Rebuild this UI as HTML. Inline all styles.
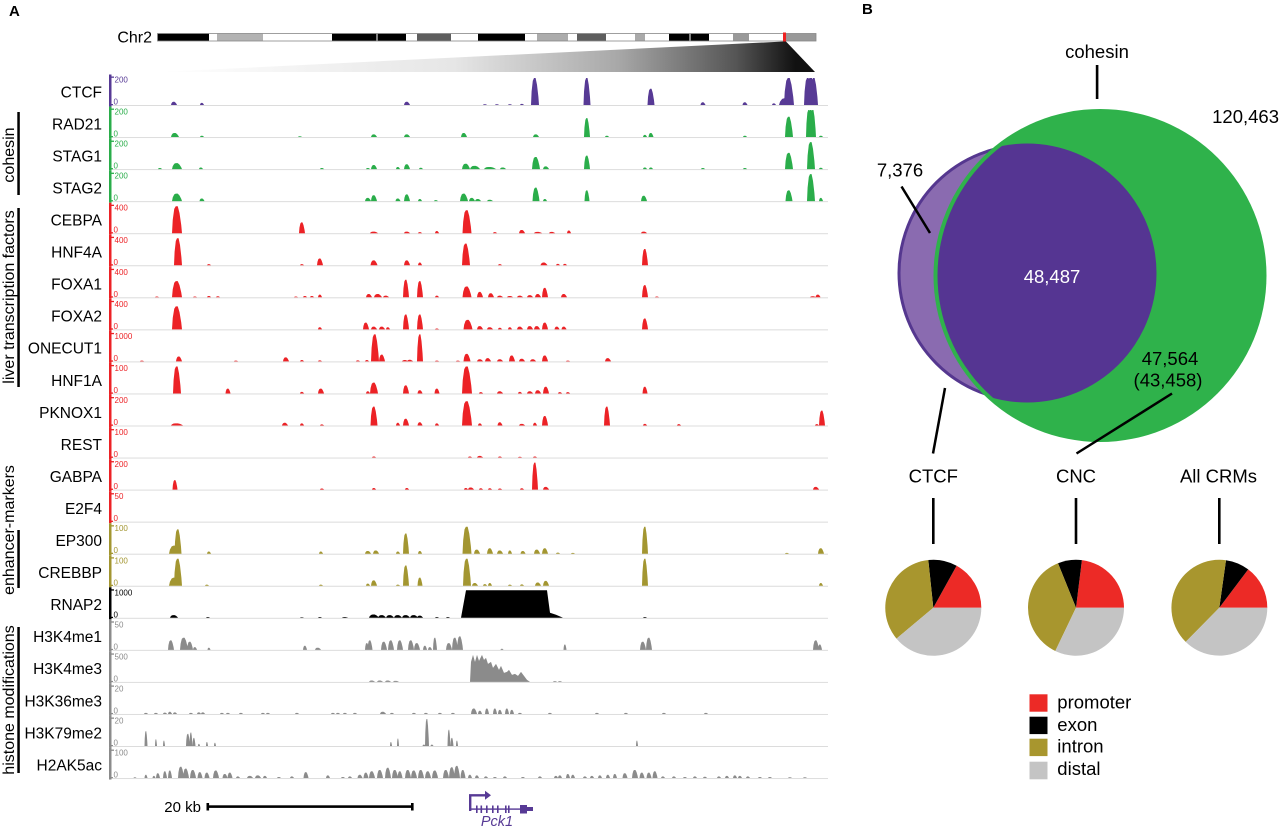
<!DOCTYPE html>
<html><head><meta charset="utf-8"><style>
html,body{margin:0;padding:0;background:#fff;}
svg{display:block;}
text{font-family:"Liberation Sans",Arial,sans-serif;}
</style></head><body>
<svg id="s" width="1280" height="828" viewBox="0 0 1280 828" xmlns="http://www.w3.org/2000/svg">
<defs>
<linearGradient id="wg" gradientUnits="userSpaceOnUse" x1="159" y1="0" x2="815" y2="0">
<stop offset="0" stop-color="#ffffff"/><stop offset="0.45" stop-color="#e6e6e6"/><stop offset="0.7" stop-color="#a8a8a8"/><stop offset="0.88" stop-color="#555"/><stop offset="0.97" stop-color="#111"/>
</linearGradient>
<clipPath id="gc"><circle cx="1100" cy="275.5" r="162.5"/></clipPath>
</defs>

<!-- Panel labels -->
<text x="9" y="16" font-size="15" font-weight="bold">A</text>
<text x="862" y="14" font-size="15" font-weight="bold">B</text>

<!-- Ideogram -->
<text x="152" y="42.5" font-size="16" text-anchor="end">Chr2</text>
<g>
<rect x="157.5" y="33.5" width="51.5" height="7.5" fill="#000"/>
<rect x="217" y="33.5" width="46" height="7.5" fill="#b3b3b3"/>
<rect x="332" y="33.5" width="44.5" height="7.5" fill="#000"/>
<rect x="377.5" y="33.5" width="28.5" height="7.5" fill="#000"/>
<rect x="417" y="33.5" width="34" height="7.5" fill="#5e5e5e"/>
<rect x="478" y="33.5" width="47" height="7.5" fill="#000"/>
<rect x="537" y="33.5" width="31" height="7.5" fill="#acacac"/>
<rect x="577" y="33.5" width="29" height="7.5" fill="#5e5e5e"/>
<rect x="635" y="33.5" width="10" height="7.5" fill="#aaa"/>
<rect x="669" y="33.5" width="20.5" height="7.5" fill="#000"/>
<rect x="690.5" y="33.5" width="18.5" height="7.5" fill="#000"/>
<rect x="733" y="33.5" width="16" height="7.5" fill="#999"/>
<rect x="786" y="33.5" width="30" height="7.5" fill="#999"/>
<rect x="157.5" y="33.5" width="658.5" height="7.5" fill="none" stroke="#888" stroke-width="0.8"/>
<rect x="783" y="32.5" width="3" height="9.5" fill="#ee2222"/>
</g>
<polygon points="159,72 784,41.5 786,41.5 815,72" fill="url(#wg)"/>

<!-- Group labels -->
<g font-size="16">
<text transform="translate(14,155) rotate(-90)" text-anchor="middle">cohesin</text>
<text transform="translate(14,297) rotate(-90)" text-anchor="middle">liver transcription factors</text>
<text transform="translate(14,530) rotate(-90)" text-anchor="middle">enhancer-markers</text>
<text transform="translate(14,700) rotate(-90)" text-anchor="middle">histone modifications</text>
</g>
<g fill="#000">
<rect x="17.3" y="112" width="2.5" height="83"/>
<rect x="17.3" y="208" width="2.5" height="179"/>
<rect x="17.3" y="530" width="2.5" height="58"/>
<rect x="17.3" y="627" width="2.5" height="146"/>
</g>

<!-- Track labels -->
<g font-size="15.5" text-anchor="end">
<text x="102" y="97.3">CTCF</text>
<text x="102" y="129.4">RAD21</text>
<text x="102" y="161.4">STAG1</text>
<text x="102" y="193.5">STAG2</text>
<text x="102" y="225.5">CEBPA</text>
<text x="102" y="257.6">HNF4A</text>
<text x="102" y="289.6">FOXA1</text>
<text x="102" y="321.7">FOXA2</text>
<text x="102" y="353.7">ONECUT1</text>
<text x="102" y="385.8">HNF1A</text>
<text x="102" y="417.8">PKNOX1</text>
<text x="102" y="449.9">REST</text>
<text x="102" y="481.9">GABPA</text>
<text x="102" y="514">E2F4</text>
<text x="102" y="546">EP300</text>
<text x="102" y="578.1">CREBBP</text>
<text x="102" y="610.1">RNAP2</text>
<text x="102" y="642.2">H3K4me1</text>
<text x="102" y="674.2">H3K4me3</text>
<text x="102" y="706.3">H3K36me3</text>
<text x="102" y="738.3">H3K79me2</text>
<text x="102" y="770.4">H2AK5ac</text>
</g>

<!-- axes and peaks generated -->
<g id="ax"></g>
<g id="tr"></g>

<!-- Axis value labels -->
<g font-size="8">
<g fill="#573a95"><text x="114.5" y="82.5">200</text><text x="113.5" y="104.5">0</text></g>
<g fill="#2aad4a">
<text x="114.5" y="114.6">200</text><text x="113.5" y="136.6">0</text>
<text x="114.5" y="146.6">200</text><text x="113.5" y="168.6">0</text>
<text x="114.5" y="178.7">200</text><text x="113.5" y="200.7">0</text>
</g>
<g fill="#ec2226">
<text x="114.5" y="210.7">400</text><text x="113.5" y="232.7">0</text>
<text x="114.5" y="242.8">400</text><text x="113.5" y="264.8">0</text>
<text x="114.5" y="274.8">400</text><text x="113.5" y="296.8">0</text>
<text x="114.5" y="306.9">400</text><text x="113.5" y="328.9">0</text>
<text x="114.5" y="338.9">1000</text><text x="113.5" y="360.9">0</text>
<text x="114.5" y="371">100</text><text x="113.5" y="393">0</text>
<text x="114.5" y="403">200</text><text x="113.5" y="425">0</text>
<text x="114.5" y="435.1">100</text><text x="113.5" y="457.1">0</text>
<text x="114.5" y="467.1">200</text><text x="113.5" y="489.1">0</text>
<text x="114.5" y="499.2">50</text><text x="113.5" y="521.2">0</text>
</g>
<g fill="#a39631">
<text x="114.5" y="531.2">100</text><text x="113.5" y="553.2">0</text>
<text x="114.5" y="563.3">100</text><text x="113.5" y="585.3">0</text>
</g>
<g fill="#000"><text x="114.5" y="595.3">1000</text><text x="113.5" y="617.3">0</text></g>
<g fill="#8b8b8b">
<text x="114.5" y="627.4">50</text><text x="113.5" y="649.4">0</text>
<text x="114.5" y="659.4">500</text><text x="113.5" y="681.4">0</text>
<text x="114.5" y="691.5">20</text><text x="113.5" y="713.5">0</text>
<text x="114.5" y="723.5">20</text><text x="113.5" y="745.5">0</text>
<text x="114.5" y="755.6">100</text><text x="113.5" y="777.6">0</text>
</g>
</g>

<!-- Scale bar -->
<text x="201" y="812" font-size="15" text-anchor="end">20 kb</text>
<rect x="207" y="805.3" width="206" height="2.6" fill="#000"/>
<rect x="206.5" y="803" width="2.6" height="7.5" fill="#000"/>
<rect x="411" y="803" width="2.6" height="7.5" fill="#000"/>

<!-- Pck1 gene -->
<g fill="#573a95" stroke="none">
<path d="M470.2,811 V795.3 H486" fill="none" stroke="#573a95" stroke-width="2.4"/>
<polygon points="485,790.8 491,795.3 485,799.8"/>
<rect x="470" y="808.4" width="63" height="1.4"/>
<rect x="476" y="805.5" width="1.6" height="7.5"/>
<rect x="480.5" y="805.5" width="1.6" height="7.5"/>
<rect x="486" y="805.5" width="1.6" height="7.5"/>
<rect x="492" y="805.5" width="1.6" height="7.5"/>
<rect x="497" y="805.5" width="1.6" height="7.5"/>
<rect x="505" y="805.5" width="1.6" height="7.5"/>
<rect x="508" y="805.5" width="1.6" height="7.5"/>
<rect x="520" y="805" width="7" height="8.5"/>
<rect x="526" y="807" width="7" height="4"/>
</g>
<text x="497" y="826" font-size="14.5" font-style="italic" text-anchor="middle" fill="#573a95">Pck1</text>

<!-- Panel B Venn -->
<text x="1097" y="58" font-size="18.5" text-anchor="middle">cohesin</text>
<rect x="1095.8" y="65" width="2.6" height="34" fill="#000"/>
<circle cx="1027" cy="273" r="128" fill="#8a6bb0" stroke="#55378f" stroke-width="3"/>
<circle cx="1100" cy="275.5" r="166.5" fill="#2fb24b"/>
<circle cx="1027" cy="273" r="129.5" fill="#553592" clip-path="url(#gc)"/>
<text x="1279" y="123" font-size="18.5" text-anchor="end">120,463</text>
<text x="900" y="176.5" font-size="18.5" text-anchor="middle">7,376</text>
<line x1="901.5" y1="186.5" x2="930" y2="233" stroke="#000" stroke-width="2.5"/>
<text x="1052" y="283" font-size="18.5" text-anchor="middle" fill="#fff">48,487</text>
<text x="1170" y="365" font-size="18.5" text-anchor="middle">47,564</text>
<text x="1168" y="386.5" font-size="18.5" text-anchor="middle">(43,458)</text>
<line x1="1172" y1="393.5" x2="1076.5" y2="453.5" stroke="#000" stroke-width="2.5"/>
<line x1="945" y1="388" x2="933" y2="453.5" stroke="#000" stroke-width="2.5"/>

<!-- Pies -->
<g font-size="18.5" text-anchor="middle">
<text x="933.3" y="482.5">CTCF</text>
<text x="1076" y="482.5">CNC</text>
<text x="1218.5" y="482.5">All CRMs</text>
</g>
<g fill="#000">
<rect x="932" y="498" width="2.6" height="46"/>
<rect x="1074.7" y="498" width="2.6" height="46"/>
<rect x="1218" y="498" width="2.6" height="46"/>
</g>
<!-- CTCF pie -->
<path d="M933.3,607.7 L981.3,607.7 A48,48 0 0 0 956.6,565.7 Z" fill="#ec2a26"/>
<path d="M933.3,607.7 L956.6,565.7 A48,48 0 0 0 928.3,560 Z" fill="#000"/>
<path d="M933.3,607.7 L928.3,560 A48,48 0 0 0 896.5,638.6 Z" fill="#a8962e"/>
<path d="M933.3,607.7 L896.5,638.6 A48,48 0 0 0 981.3,607.7 Z" fill="#c4c4c4"/>
<!-- CNC pie -->
<path d="M1076,607.7 L1124,607.7 A48,48 0 0 0 1081.9,560.1 Z" fill="#ec2a26"/>
<path d="M1076,607.7 L1081.9,560.1 A48,48 0 0 0 1058,563.2 Z" fill="#000"/>
<path d="M1076,607.7 L1058,563.2 A48,48 0 0 0 1055.3,651 Z" fill="#a8962e"/>
<path d="M1076,607.7 L1055.3,651 A48,48 0 0 0 1124,607.7 Z" fill="#c4c4c4"/>
<!-- All CRMs pie -->
<path d="M1219.3,607.7 L1267.3,607.7 A48,48 0 0 0 1248.2,569.4 Z" fill="#ec2a26"/>
<path d="M1219.3,607.7 L1248.2,569.4 A48,48 0 0 0 1226,560.2 Z" fill="#000"/>
<path d="M1219.3,607.7 L1226,560.2 A48,48 0 0 0 1185.7,641.9 Z" fill="#a8962e"/>
<path d="M1219.3,607.7 L1185.7,641.9 A48,48 0 0 0 1267.3,607.7 Z" fill="#c4c4c4"/>

<!-- Legend -->
<rect x="1029.5" y="694.3" width="18" height="17.4" fill="#ec2a26"/>
<rect x="1029.5" y="716.7" width="18" height="17.4" fill="#000"/>
<rect x="1029.5" y="738.7" width="18" height="17.4" fill="#a8962e"/>
<rect x="1029.5" y="761.7" width="18" height="17.6" fill="#c4c4c4"/>
<g font-size="18.5">
<text x="1057.3" y="708.3">promoter</text>
<text x="1057.3" y="731">exon</text>
<text x="1057.3" y="752.7">intron</text>
<text x="1057.3" y="775">distal</text>
</g>
</svg>

<script>
(function(){
var PU='#573a95',GR='#2aad4a',RD='#ec2226',OL='#a39631',BK='#000',GY='#8b8b8b';
var T=[
[PU,[[174,.12,3],[202,.08,2],[407,.12,3],[485,.03,2],[497,.03,2],[510,.03,2],[522,.04,2],[535,1,4],[587,1,3.5],[651,.6,3.5],[703,.1,2.5],[745,.1,2.5],[774,.06,2],[789,1,5],[786,.25,7],[811,1,6],[808,1,4],[814,1,4]]],
[GR,[[175,.15,4],[202,.05,2],[300,.03,2],[374,.1,3],[407,.1,3],[464,.15,3],[536,.1,3],[587,.7,3],[607,.05,2],[645,.08,2],[651,.15,2.5],[745,.05,2],[789,.75,4],[811,1,4],[809,1,3],[813,1,3],[821,.05,2]]],
[GR,[[160,.04,2],[177,.22,5],[201,.06,2],[322,.04,2],[368,.04,2],[374,.15,3],[398,.08,2],[407,.18,3],[421,.05,2],[466,.2,4],[475,.12,5],[490,.08,6],[503,.06,3],[536,.45,4],[546,.1,3],[587,.5,3],[645,.06,2],[651,.06,2],[703,.04,2],[745,.04,2],[789,.6,4],[811,1,4],[821,.05,2]]],
[GR,[[177,.28,5],[202,.1,2.5],[368,.12,3],[374,.22,3],[398,.1,2.5],[407,.25,3],[420,.08,2],[436,.04,2],[464,.28,4],[472,.12,3],[478,.08,3],[490,.05,3],[536,.5,3.5],[545,.08,2],[587,.4,2.5],[644,.2,3],[789,.4,3.5],[811,1,4],[821,.12,2]]],
[RD,[[177,1,5],[302,.4,3],[374,.06,4],[407,.06,3],[420,.04,2],[437,.08,2],[467,.85,4.5],[495,.04,2],[522,.12,3],[538,.05,4],[552,.05,3],[569,.1,2],[644,.06,3]]],
[RD,[[178,1,4],[209,.04,2],[302,.04,2],[320,.25,3],[374,.18,3.5],[407,.18,3],[420,.1,2],[466,.8,4],[500,.04,2],[544,.1,3.5],[558,.05,2],[565,.05,2],[645,.6,3]]],
[RD,[[157,.03,2],[177,.6,5],[195,.03,2],[209,.05,2],[218,.04,2],[296,.03,2],[305,.05,2],[312,.05,2],[320,.1,2],[369,.12,3],[378,.12,4],[386,.06,3],[406,.65,3],[420,.6,3],[437,.06,2],[467,.4,4.5],[480,.2,3],[491,.15,3],[500,.06,3],[510,.05,3],[520,.06,3],[530,.08,3],[538,.12,3],[545,.35,3],[564,.12,3],[645,.45,3],[657,.03,2],[813,.04,3],[818,.1,2.5]]],
[RD,[[177,.85,5],[320,.08,2],[366,.25,3],[374,.1,3],[382,.1,3],[388,.08,2],[406,.55,3],[420,.55,3],[437,.03,2],[468,.35,4.5],[480,.12,3],[490,.08,3],[500,.06,2],[510,.08,2],[520,.1,3],[530,.12,3],[537,.12,3],[545,.25,3],[557,.1,2.5],[564,.1,2.5],[645,.4,3]]],
[RD,[[142,.03,2],[179,.18,3],[236,.03,2],[286,.15,3],[302,.05,2],[320,.04,2],[358,.04,2],[367,.05,2],[375,1,4],[382,.25,3],[405,.05,3],[410,.06,3],[420,1,3],[437,.03,2],[458,.03,2],[467,.28,3.5],[480,.08,3],[488,.12,3],[500,.08,3],[512,.22,3],[522,.1,3],[533,.08,3],[545,.22,3],[568,.03,2],[608,.12,3]]],
[RD,[[177,1,4],[228,.18,2.5],[302,.06,2],[321,.18,3],[368,.08,2],[374,.4,4],[406,.3,3],[420,.12,2.5],[437,.18,2.5],[467,1,5],[481,.05,2],[500,.08,3],[520,.06,2],[530,.08,3],[538,.12,3],[546,.25,3],[560,.05,2],[568,.05,2],[645,.25,2.5]]],
[RD,[[177,.08,6],[285,.1,3],[302,.08,2],[322,.04,2],[374,.7,3.5],[398,.1,2],[406,.25,3],[420,.12,2.5],[437,.08,2],[467,.9,5],[480,.08,2],[500,.12,2.5],[522,.06,3],[535,.1,2],[545,.35,3],[607,.7,3],[645,.06,2],[679,.05,2],[817,.05,2],[822,.55,3]]],
[RD,[[374,.04,2],[470,.04,2],[480,.06,3],[500,.04,2],[520,.03,2],[535,.04,2]]],
[RD,[[175,.35,2.5],[322,.04,2],[374,.06,2],[407,.06,2],[466,.06,2],[471,.08,3],[481,.05,2],[490,.05,2],[500,.04,2],[522,.05,2],[535,1,3],[546,.1,3],[816,.1,3]]],
[RD,[]],
[OL,[[175,.3,6],[178,.9,3.5],[209,.08,2],[321,.08,2],[368,.1,3],[376,.12,3],[398,.08,2],[406,.75,3],[420,.1,2],[467,1,4.5],[477,.15,3],[490,.2,3],[500,.12,3],[510,.12,2],[523,.1,2.5],[537,.15,3],[545,.2,3],[558,.04,2],[573,.03,2],[645,1,3],[787,.03,2],[821,.2,3]]],
[OL,[[178,1,4],[175,.3,6],[207,.04,2],[321,.04,2],[368,.08,2],[374,.2,3],[398,.04,2],[406,.75,3],[420,.3,2.5],[467,1,4],[475,.1,3],[485,.06,2],[490,.1,2],[510,.04,2],[522,.05,2],[538,.12,3],[546,.18,3],[645,1,3],[821,.1,2]]],
[BK,[[174,.1,4],[208,.03,2],[302,.02,2],[320,.03,2],[345,.03,3],[374,.12,5],[382,.1,4],[390,.1,4],[398,.1,4],[406,.1,4],[414,.1,4],[420,.08,3],[437,.03,2],[448,.03,2],[645,.03,2]],function(b){return 'M461,'+b+'L466,'+(b-27.5)+'L547,'+(b-27.5)+'L550,'+(b-5)+'L556,'+(b-3)+'L563,'+b+'Z';}],
[GY,[[171,.35,3],[184,.45,4],[190,.3,3],[195,.1,2],[209,.08,1.5],[305,.15,2],[318,.08,3],[367,.25,2],[370,.35,2.5],[384,.3,3],[391,.35,3],[400,.35,3],[411,.35,3],[417,.25,3],[425,.15,2],[430,.1,2],[435,.45,2],[449,.25,3],[455,.45,3],[460,.5,3],[502,.04,1.5],[565,.2,1.5],[643,.3,3],[649,.45,3],[816,.35,3],[820,.2,2]]],
[GY,[[372,.05,3],[380,.05,3],[388,.05,3],[396,.04,3],[555,.03,2],[560,.03,2]],function(b){var p=[[470,0],[471,-20],[473,-27],[475,-20],[477,-27],[479,-21],[482,-27],[484,-22],[486,-24],[488,-18],[491,-20],[493,-14],[496,-18],[499,-12],[501,-16],[504,-9],[507,-10],[509,-12],[512,-7],[515,-8],[518,-6],[521,-10],[524,-6],[527,-2],[530,0]];var d='';for(var k=0;k<p.length;k++){d+=(k?'L':'M')+p[k][0]+','+(b+p[k][1]);}return d+'Z';}],
[GY,[[146,.04,2],[156,.04,2],[165,.05,2],[170,.08,2],[175,.06,2],[191,.04,2],[199,.06,2],[203,.06,2],[222,.04,2],[228,.04,2],[241,.04,2],[263,.04,2],[268,.04,2],[297,.04,2],[333,.04,2],[338,.04,2],[345,.04,2],[355,.04,2],[383,.08,3],[392,.04,2],[414,.04,2],[426,.04,2],[440,.04,2],[453,.04,2],[474,.2,3],[480,.12,2],[487,.2,2],[495,.2,2],[500,.15,2],[507,.2,2],[512,.15,2],[520,.04,2],[550,.04,2],[597,.04,2],[626,.04,2],[664,.04,2],[706,.04,2]]],
[GY,[[146,.55,1.5],[156,.25,1],[164,.2,1],[188,.45,2],[191,.5,1.5],[194,.3,1.5],[199,.08,1],[207,.15,1],[215,.12,1],[391,.15,1],[398,.28,1],[424,.05,1.5],[427,1,2],[432,.05,1.5],[449,.6,1.5],[452,.3,1.5],[457,.2,1],[637,.2,1]]],
[GY,[[135,.03,1.5],[146,.12,1.5],[154,.08,1.5],[158,.18,2],[165,.25,2],[170,.28,2],[181,.42,3],[186,.35,3],[193,.3,3],[200,.22,2.5],[207,.2,2.5],[216,.28,3],[225,.15,2.5],[230,.2,2.5],[238,.06,2],[250,.08,3],[258,.1,3],[265,.08,2],[279,.04,2],[292,.06,2],[306,.22,2.5],[328,.1,2],[343,.04,2],[350,.06,2],[360,.12,2.5],[366,.2,2.5],[372,.25,3],[380,.3,3],[388,.38,3],[395,.3,3],[400,.25,2.5],[408,.3,3],[414,.28,3],[421,.3,3],[428,.25,3],[435,.28,3],[446,.3,3],[452,.4,3],[457,.45,3],[463,.3,2.5],[470,.12,2],[477,.1,2],[486,.06,2],[495,.04,2],[505,.06,2],[523,.04,2],[540,.06,2],[556,.08,2],[560,.1,2],[568,.15,2],[573,.12,2],[585,.06,2],[592,.08,2],[600,.1,2],[608,.12,2],[615,.15,2],[625,.18,2.5],[635,.3,3],[642,.2,2.5],[649,.2,2.5],[655,.25,2.5],[663,.06,2],[674,.06,2],[685,.04,2],[695,.06,2],[705,.05,2],[719,.06,2],[727,.08,2],[735,.1,2],[740,.08,2],[748,.06,2],[760,.04,2],[770,.04,2],[790,.03,2],[805,.03,2]]]
];
var H=27,out='',ax='';
function P(x,y){return x.toFixed(2)+','+y.toFixed(2);}
for(var i=0;i<T.length;i++){
  var b=105+32.05*i,t=T[i],c=t[0],d='';
  ax+='<rect x="113" y="'+(b)+'" width="715" height="1" fill="#dcdcdc"/>';
  ax+='<rect x="109" y="'+(b-30.5)+'" width="2.5" height="32" fill="'+c+'"/>';
  ax+='<rect x="109" y="'+(b-28.5)+'" width="5" height="1.3" fill="'+c+'"/>';
  ax+='<rect x="109" y="'+(b-1)+'" width="4" height="1.3" fill="'+c+'"/>';
  for(var j=0;j<t[1].length;j++){
    var q=t[1][j],x=q[0],h=q[1]*H,w=q[2];
    d+='M'+P(x-w,b)+'L'+P(x-w*0.85,b-h*0.5)+'L'+P(x-w*0.55,b-h*0.9)+'L'+P(x-w*0.25,b-h)+'L'+P(x+w*0.15,b-h)+'L'+P(x+w*0.5,b-h*0.75)+'L'+P(x+w*0.85,b-h*0.3)+'L'+P(x+w,b)+'Z';
  }
  if(t[2]) d+=t[2](b);
  if(d) out+='<path d="'+d+'" fill="'+c+'"/>';
}
document.getElementById('ax').innerHTML=ax;
document.getElementById('tr').innerHTML=out;
})();
</script>
</body></html>
